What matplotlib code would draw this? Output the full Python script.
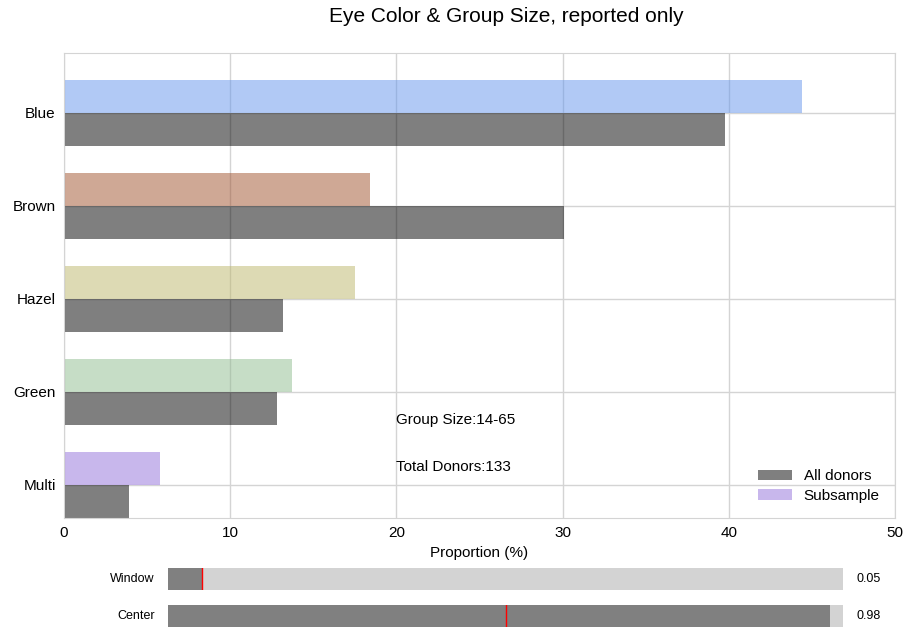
import matplotlib
matplotlib.use("Agg")
from matplotlib import pyplot as plt

plt.rcParams['font.family'] = ['Liberation Sans', 'DejaVu Sans']

categories = ["Multi", "Green", "Hazel", "Brown", "Blue"]
all_donors = [3.9, 12.8, 13.2, 30.1, 39.8]
subsample = [5.8, 13.7, 17.5, 18.4, 44.4]
sub_colors = ["mediumpurple", "darkseagreen", "darkkhaki", "sienna", "cornflowerblue"]

group_size = "14-65"
total_donors = 133

slider_names = ["Window", "Center"]
slider_values = [0.05, 0.98]
slider_inits = [0.05, 0.5]


def main():
    fig = plt.figure(figsize=(9.13, 6.38), dpi=100)
    ax = fig.add_axes([64 / 913, 1 - 518 / 638, (895 - 64) / 913, (518 - 53) / 638])

    h = 0.35
    pos = list(range(len(categories)))
    ax.barh([p - h / 2 for p in pos], all_donors, height=h, color="black", alpha=0.5,
            label="All donors", zorder=2)
    for i in pos:
        ax.barh(i + h / 2, subsample[i], height=h, color=sub_colors[i], alpha=0.5,
                label="Subsample" if i == 0 else None, zorder=2)

    ax.set_xlim(0, 50)
    ax.set_ylim(-0.355, len(categories) - 0.355)
    ax.set_yticks(pos)
    ax.set_yticklabels(categories)
    ax.grid(True, color="#d4d4d4", linewidth=1, zorder=0)
    ax.set_axisbelow(True)
    ax.tick_params(length=0, labelsize=11, pad=6)
    for s in ax.spines.values():
        s.set_color("#d4d4d4")
    ax.set_xlabel("Proportion (%)", fontsize=11, labelpad=4)

    ax.text(20, 0.70, "Group Size:" + group_size, fontsize=11, va="center")
    ax.text(20, 0.19, "Total Donors:" + str(total_donors), fontsize=11, va="center")

    ax.legend(loc="lower right", frameon=False, fontsize=11, handlelength=2.2,
              borderaxespad=0.6, labelspacing=0.35)

    fig.text(506 / 913, 1 - 16 / 638, "Eye Color & Group Size, reported only",
             ha="center", va="center", fontsize=15)

    tops = [568, 605]
    for name, val, init, top in zip(slider_names, slider_values, slider_inits, tops):
        sax = fig.add_axes([168 / 913, 1 - (top + 22) / 638, (843 - 168) / 913, 22 / 638])
        sax.set_facecolor("lightgray")
        sax.barh(0, val, height=1, color="gray", align="edge")
        sax.axvline(init, color="red", linewidth=1)
        sax.set_xlim(0, 1)
        sax.set_ylim(0, 1)
        sax.set_xticks([])
        sax.set_yticks([])
        for s in sax.spines.values():
            s.set_visible(False)
        sax.text(-0.02, 0.5, name, transform=sax.transAxes, ha="right", va="center", fontsize=9)
        sax.text(1.02, 0.5, "%.2f" % val, transform=sax.transAxes, ha="left", va="center", fontsize=9)

    fig.savefig("out.png", dpi=100)


if __name__ == '__main__':
    main()
